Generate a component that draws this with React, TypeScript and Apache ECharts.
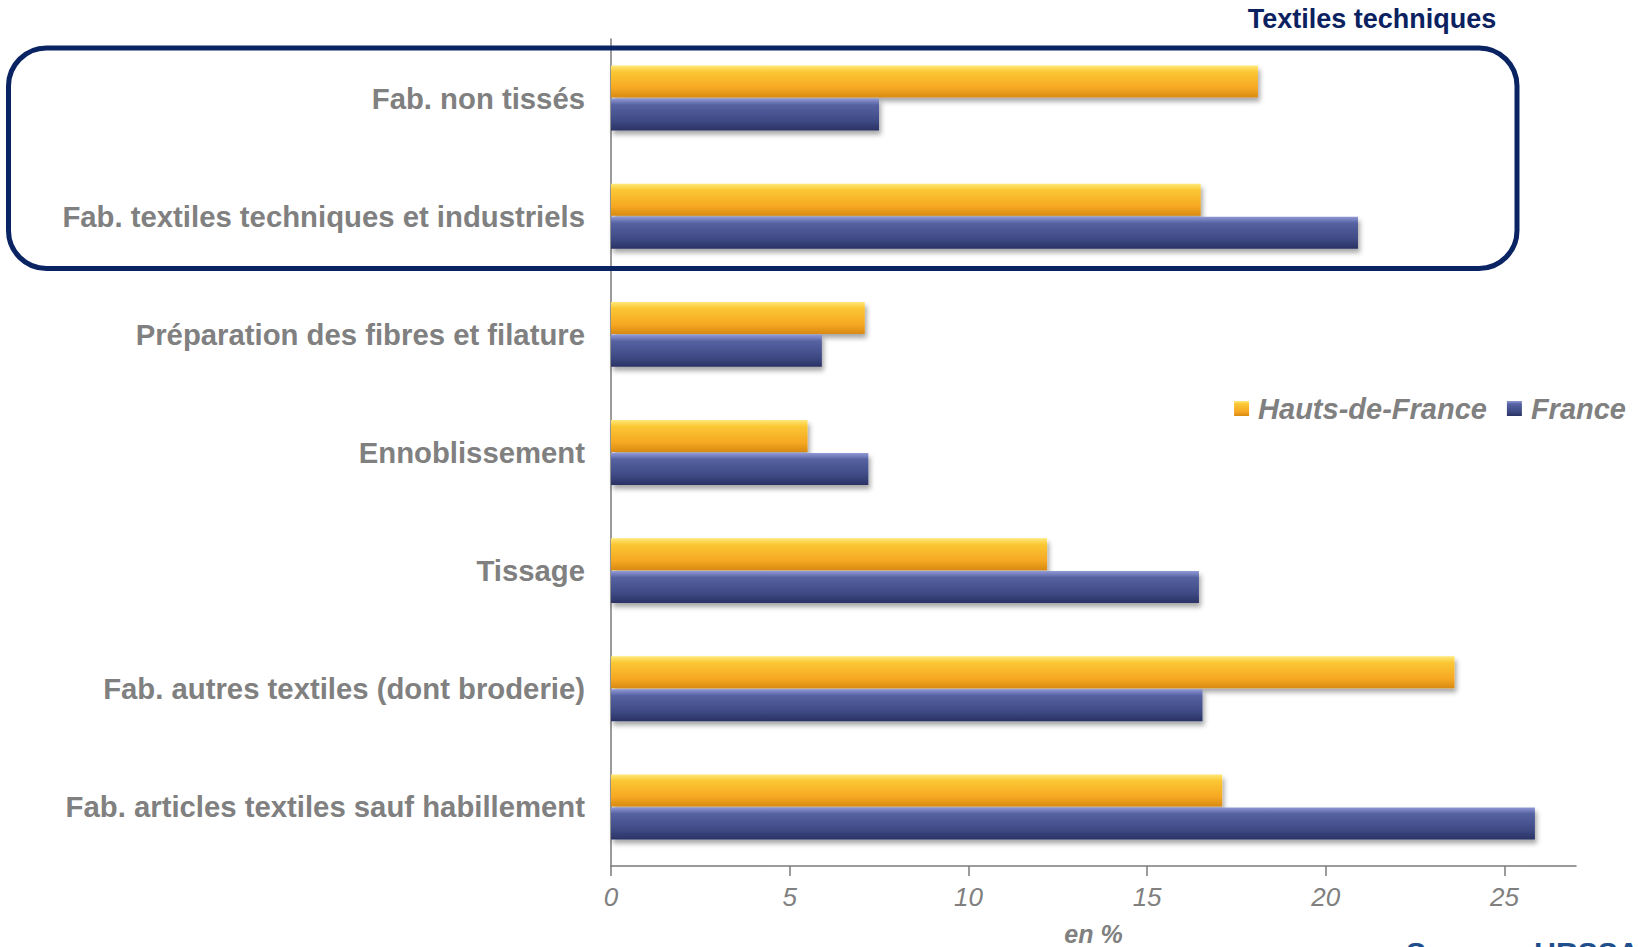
import React, { useEffect, useRef } from "react";
import * as echarts from "echarts";

const categories = [
  "Fab. non tissés",
  "Fab. textiles techniques et industriels",
  "Préparation des fibres et filature",
  "Ennoblissement",
  "Tissage",
  "Fab. autres textiles (dont broderie)",
  "Fab. articles textiles sauf habillement",
];
const hdfValues = [18.1, 16.5, 7.1, 5.5, 12.2, 23.6, 17.1];
const franceValues = [7.5, 20.9, 5.9, 7.2, 16.45, 16.55, 25.85];
const xTicks = [0, 5, 10, 15, 20, 25];
const seriesNames = ["Hauts-de-France", "France"];

const GREY = "#808080";
const FONT = "'Liberation Sans', Arial, sans-serif";

export default function App() {
  const ref = useRef<HTMLDivElement>(null);
  useEffect(() => {
    if (!ref.current) return;
    const chart = echarts.init(ref.current, null, { renderer: "svg" });
    const yellow = new echarts.graphic.LinearGradient(0, 0, 0, 1, [
      { offset: 0, color: "#FFE878" },
      { offset: 0.2, color: "#FBC733" },
      { offset: 0.7, color: "#F6A823" },
      { offset: 1, color: "#D88A12" },
    ]);
    const blue = new echarts.graphic.LinearGradient(0, 0, 0, 1, [
      { offset: 0, color: "#9199D6" },
      { offset: 0.2, color: "#5662A2" },
      { offset: 0.7, color: "#3E4A84" },
      { offset: 1, color: "#2A3264" },
    ]);
    const barStyle = {
      shadowBlur: 5,
      shadowOffsetX: 2,
      shadowOffsetY: 4,
      shadowColor: "rgba(0,0,0,0.35)",
    };
    chart.setOption({
      animation: false,
      backgroundColor: "#ffffff",
      grid: {
        left: 611,
        right: 62,
        top: 39,
        bottom: 81,
        containLabel: false,
        outerBoundsMode: "none",
      },
      legend: {
        data: seriesNames,
        right: 7,
        top: 389,
        icon: "rect",
        itemWidth: 15,
        itemHeight: 15,
        itemGap: 20,
        textStyle: {
          color: GREY,
          fontFamily: FONT,
          fontSize: 29,
          fontWeight: "bold",
          fontStyle: "italic",
          padding: [0, 0, 0, 4],
        },
      },
      xAxis: {
        type: "value",
        min: 0,
        max: 27,
        interval: 5,
        name: "en %",
        nameLocation: "middle",
        nameGap: 55,
        nameTextStyle: {
          color: GREY,
          fontFamily: FONT,
          fontSize: 25,
          lineHeight: 25,
          fontWeight: "bold",
          fontStyle: "italic",
        },
        splitLine: { show: false },
        axisLine: { show: true, lineStyle: { color: "#7a7a7a", width: 1.5 } },
        axisTick: {
          show: true,
          length: 10,
          customValues: xTicks,
          lineStyle: { color: "#7a7a7a", width: 1.5 },
        },
        axisLabel: {
          customValues: xTicks,
          margin: 18,
          color: GREY,
          fontFamily: FONT,
          fontSize: 26,
          fontStyle: "italic",
        },
      },
      yAxis: {
        type: "category",
        inverse: true,
        data: categories,
        axisLine: { show: true, lineStyle: { color: "#7a7a7a", width: 1.5 } },
        axisTick: { show: false },
        axisLabel: {
          margin: 26,
          color: GREY,
          fontFamily: FONT,
          fontSize: 29.3,
          fontWeight: "bold",
        },
      },
      series: [
        {
          name: seriesNames[0],
          type: "bar",
          data: hdfValues,
          barWidth: 32,
          barGap: "3%",
          itemStyle: { color: yellow, ...barStyle },
        },
        {
          name: seriesNames[1],
          type: "bar",
          data: franceValues,
          barWidth: 32,
          barGap: "3%",
          itemStyle: { color: blue, ...barStyle },
        },
      ],
      graphic: [
        {
          type: "rect",
          shape: { x: 8.5, y: 48, width: 1508.5, height: 220.5, r: 38 },
          style: { fill: "none", stroke: "#0A2463", lineWidth: 5 },
          z: 10,
        },
        {
          type: "text",
          x: 1372,
          y: 19,
          style: {
            text: "Textiles techniques",
            fill: "#0B2160",
            font: "bold 27px " + FONT,
            textAlign: "center",
            textVerticalAlign: "middle",
          },
        },
        {
          type: "text",
          x: 1406,
          y: 937,
          style: {
            text: "Source : URSSAF",
            fill: "#1F4E8C",
            font: "bold 30px " + FONT,
            textAlign: "left",
            textVerticalAlign: "top",
          },
        },
      ],
    });
    return () => chart.dispose();
  }, []);
  return (
    <div
      ref={ref}
      style={{ position: "fixed", left: 0, top: 0, width: 1638, height: 947 }}
    />
  );
}
